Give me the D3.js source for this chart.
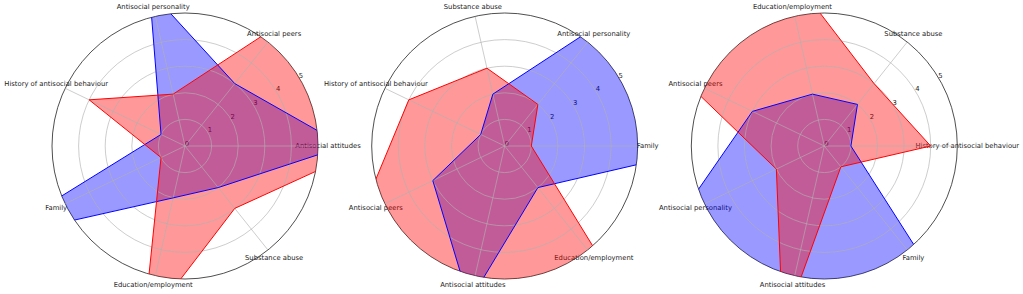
<!DOCTYPE html>
<html>
<head>
<meta charset="utf-8">
<script src="https://cdn.jsdelivr.net/npm/d3@7"></script>
<style>
  html, body { margin: 0; padding: 0; background: #fff; }
  svg { display: block; }
  text { font-family: "DejaVu Sans", sans-serif; fill: #222; }
</style>
</head>
<body>
<div id="chart"></div>
<script>
// risk factors and the two score profiles
const factors = ["Antisocial attitudes", "Antisocial peers", "Antisocial personality",
  "History of antisocial behaviour", "Family", "Education/employment", "Substance abuse"];
const redScores = [7, 6, 2, 4, 1, 7, 3];
const blueScores = [6, 3, 6, 1, 8, 2, 2];

// order of the spokes in each panel (counter-clockwise from 3 o'clock)
const panel1Order = ["Antisocial attitudes", "Antisocial peers", "Antisocial personality",
  "History of antisocial behaviour", "Family", "Education/employment", "Substance abuse"];
const panel2Order = ["Family", "Antisocial personality", "Substance abuse",
  "History of antisocial behaviour", "Antisocial peers", "Antisocial attitudes", "Education/employment"];
const panel3Order = ["History of antisocial behaviour", "Substance abuse", "Education/employment",
  "Antisocial peers", "Antisocial personality", "Antisocial attitudes", "Family"];
const panelOrders = [panel1Order, panel2Order, panel3Order];

const radialTicks = [0, 1, 2, 3, 4, 5];

const width = 1023, height = 294;
const R = 133;          // radius of the outer ring (value 5)
const cy = 146;
const centers = [185, 504.7, 824.3];

const svg = d3.select("#chart").append("svg")
  .attr("width", width)
  .attr("height", height);

const r = d3.scaleLinear().domain([0, 5]).range([0, R]);

panelOrders.forEach((order, p) => {
  const n = order.length;
  // matplotlib style angle (ccw from east) -> d3 angle (cw from north)
  const theta = d3.scaleLinear().domain([0, n]).range([0, 2 * Math.PI]);
  const d3Angle = i => Math.PI / 2 - theta(i);

  const g = svg.append("g").attr("transform", `translate(${centers[p]},${cy})`);

  // clip everything to the polar area
  const clipId = "clip" + p;
  svg.append("clipPath").attr("id", clipId)
    .append("circle").attr("cx", centers[p]).attr("cy", cy).attr("r", R);

  const rows = order.map(f => {
    const k = factors.indexOf(f);
    return { factor: f, red: redScores[k], blue: blueScores[k] };
  });

  const line = key => d3.lineRadial()
    .angle((d, i) => d3Angle(i))
    .radius(d => r(d[key]))
    .curve(d3.curveLinearClosed);

  const plot = svg.append("g")
    .attr("clip-path", `url(#${clipId})`)
    .append("g").attr("transform", `translate(${centers[p]},${cy})`);

  // fills first (blue under red)
  plot.append("path").attr("d", line("blue")(rows))
    .attr("fill", "#0000ff").attr("fill-opacity", 0.4).attr("stroke", "none");
  plot.append("path").attr("d", line("red")(rows))
    .attr("fill", "#ff0000").attr("fill-opacity", 0.4).attr("stroke", "none");

  // grid
  const grid = plot.append("g").attr("stroke", "#b0b0b0").attr("stroke-width", 0.8)
    .attr("fill", "none").attr("stroke-opacity", 0.8);
  radialTicks.filter(t => t > 0 && t < 5).forEach(t => {
    grid.append("circle").attr("r", r(t));
  });
  rows.forEach((d, i) => {
    const a = d3Angle(i);
    grid.append("line")
      .attr("x1", 0).attr("y1", 0)
      .attr("x2", R * Math.sin(a)).attr("y2", -R * Math.cos(a));
  });

  // outlines
  plot.append("path").attr("d", line("blue")(rows))
    .attr("fill", "none").attr("stroke", "#0000ff").attr("stroke-width", 1);
  plot.append("path").attr("d", line("red")(rows))
    .attr("fill", "none").attr("stroke", "#ff0000").attr("stroke-width", 1);

  // outer ring
  g.append("circle").attr("r", R)
    .attr("fill", "none").attr("stroke", "#222").attr("stroke-width", 0.8);

  // radial tick labels
  const labA = 31 * Math.PI / 180;
  radialTicks.forEach(t => {
    g.append("text")
      .attr("x", r(t) * Math.cos(labA) + 2)
      .attr("y", -r(t) * Math.sin(labA) - 2)
      .attr("text-anchor", "middle")
      .attr("dominant-baseline", "central")
      .attr("font-size", 6.8)
      .text(t);
  });

  // category labels
  rows.forEach((d, i) => {
    const a = d3Angle(i);
    const rho = R + 10;
    g.append("text")
      .attr("x", rho * Math.sin(a))
      .attr("y", -rho * Math.cos(a))
      .attr("text-anchor", "middle")
      .attr("dominant-baseline", "central")
      .attr("font-size", 6.8)
      .text(d.factor);
  });
});
</script>
</body>
</html>
